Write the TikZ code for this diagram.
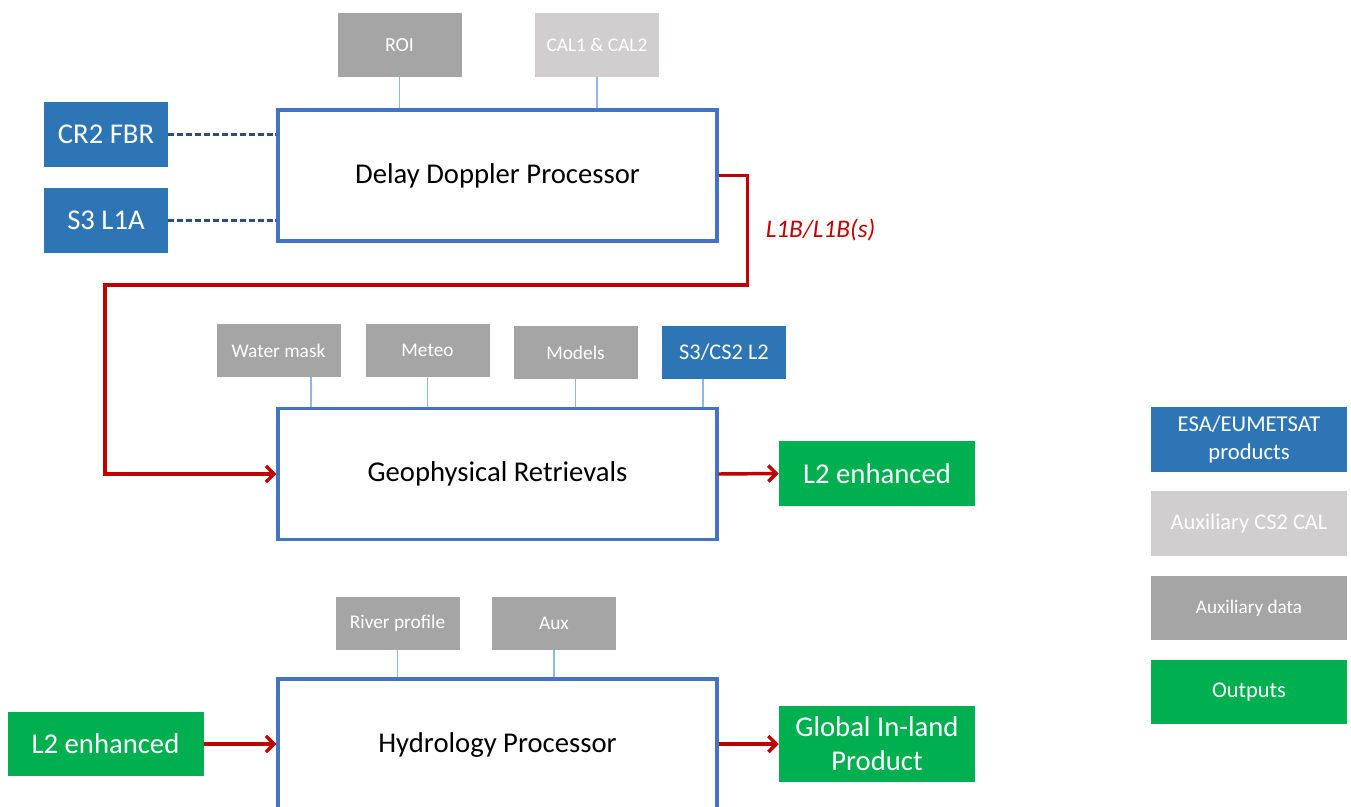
\documentclass[tikz,border=0pt]{standalone}
\usepackage{fontspec}
\setmainfont{Carlito}
\usetikzlibrary{arrows.meta,positioning}
\definecolor{esaBlue}{HTML}{2E75B6}
\definecolor{procBlue}{HTML}{4472C4}
\definecolor{linkBlue}{HTML}{8FB8E6}
\definecolor{calGray}{HTML}{D0CECE}
\definecolor{auxGray}{HTML}{A5A5A5}
\definecolor{outGreen}{HTML}{00B050}
\definecolor{flowRed}{HTML}{C00000}
\definecolor{dashBlue}{HTML}{2F4D7A}

\begin{document}
\begin{tikzpicture}[x=0.75pt, y=-0.75pt,
      proc/.style={draw=procBlue, line width=2.6pt, fill=white, inner sep=0pt,
        minimum width=329pt, minimum height=98pt, font=\fontsize{21.5}{26}\selectfont},
      src/.style={fill=esaBlue, text=white, inner sep=0pt, minimum width=93pt,
        minimum height=48.5pt, font=\fontsize{21.5}{26}\selectfont},
      aux/.style={fill=auxGray, text=white, inner sep=0pt, minimum width=93pt,
        minimum height=40pt, font=\fontsize{14.5}{17}\selectfont},
      outbox/.style={fill=outGreen, text=white, inner sep=0pt, align=center,
        minimum width=147pt, minimum height=48.5pt, font=\fontsize{21.5}{21.5}\selectfont},
      leg/.style={text=white, inner sep=0pt, align=center, minimum width=147pt,
        minimum height=48.5pt, font=\fontsize{16.8}{20}\selectfont},
      link/.style={draw=linkBlue, line width=0.8pt},
      feed/.style={draw=dashBlue, line width=1.8pt, dash pattern=on 4.5pt off 2.2pt},
      flow/.style={draw=flowRed, line width=2.6pt, -{Straight Barb[length=6pt, width=12pt]}}]
    \path[use as bounding box, clip] (0,0) rectangle (1351,806);

    % delay doppler stage
    \node[proc] (ddp) at (497.5,175.5) {Delay Doppler Processor};
    \node[aux, minimum height=48pt, font=\fontsize{15}{18}\selectfont] (roi) at (399.5,45) {ROI};
    \node[aux, minimum height=48pt, fill=calGray] (cal) at (597,45) {CAL1 \& CAL2};
    \node[src] (cr2) at (106,134.5) {CR2 FBR};
    \node[src] (s3a) at (106,220.5) {S3 L1A};
    \draw[link] (roi.south) -- (roi.south |- ddp.north);
    \draw[link] (cal.south) -- (cal.south |- ddp.north);
    \draw[feed] (cr2.east) -- (cr2.east -| ddp.west);
    \draw[feed] (s3a.east) -- (s3a.east -| ddp.west);

    % geophysical retrievals stage
    \node[proc] (geo) at (497.5,474) {Geophysical Retrievals};
    \node[aux] (wmask) at (278.5,350.5) {Water mask};
    \node[aux] (meteo) at (427.5,350.5) {Meteo};
    \node[aux] (models) at (575.5,352.5) {Models};
    \node[aux, fill=esaBlue, font=\fontsize{16.8}{20}\selectfont] (s3l2) at (724,352.5) {S3/CS2 L2};
    \draw[link] (311,0 |- wmask.south) -- (311,0 |- geo.north);
    \draw[link] (meteo.south) -- (meteo.south |- geo.north);
    \draw[link] (models.south) -- (models.south |- geo.north);
    \draw[link] (703,0 |- s3l2.south) -- (703,0 |- geo.north);
    \node[outbox] (l2out) at (877,473.5) {L2 enhanced};
    \draw[flow] (ddp.east) -- ++(29,0)
      |- node[pos=0.25, right=9pt, text=flowRed, font=\fontsize{19}{23}\selectfont\itshape] (l1b) {L1B/L1B(s)} (105,285)
      |- (geo.west);
    \draw[flow] (geo.east) -- (l2out.west);

    % hydrology stage
    \node[proc, minimum height=105pt] (hydro) at (497.5,749) {};
    \node[font=\fontsize{21.5}{26}\selectfont] (hydrolbl) at (497.5,745) {Hydrology Processor};
    \node[aux] (river) at (397.5,623.5) {River profile};
    \node[aux] (auxd) at (554,623.5) {Aux};
    \draw[link] (river.south) -- (river.south |- hydro.north);
    \draw[link] (auxd.south) -- (auxd.south |- hydro.north);
    \node[outbox] (l2in) at (105.5,744) {L2 enhanced};
    \node[outbox, minimum height=57pt, font=\fontsize{21.5}{25.5}\selectfont] (glob) at (877,744) {Global In-land\\Product};
    \draw[flow] (l2in.east) -- (l2in.east -| hydro.west);
    \draw[flow] (hydro.east |- glob.west) -- (glob.west);

    % legend
    \node[leg, fill=esaBlue, font=\fontsize{17}{20.5}\selectfont] (legesa) at (1249,439.5) {ESA/EUMETSAT\\products};
    \node[leg, fill=calGray, below=14.25pt of legesa] (legcal) {Auxiliary CS2 CAL};
    \node[leg, fill=auxGray, below=14.25pt of legcal, font=\fontsize{14.4}{17}\selectfont] (legaux) {Auxiliary data};
    \node[leg, fill=outGreen, below=14.25pt of legaux] (legout) {Outputs};
  \end{tikzpicture}
\end{document}
